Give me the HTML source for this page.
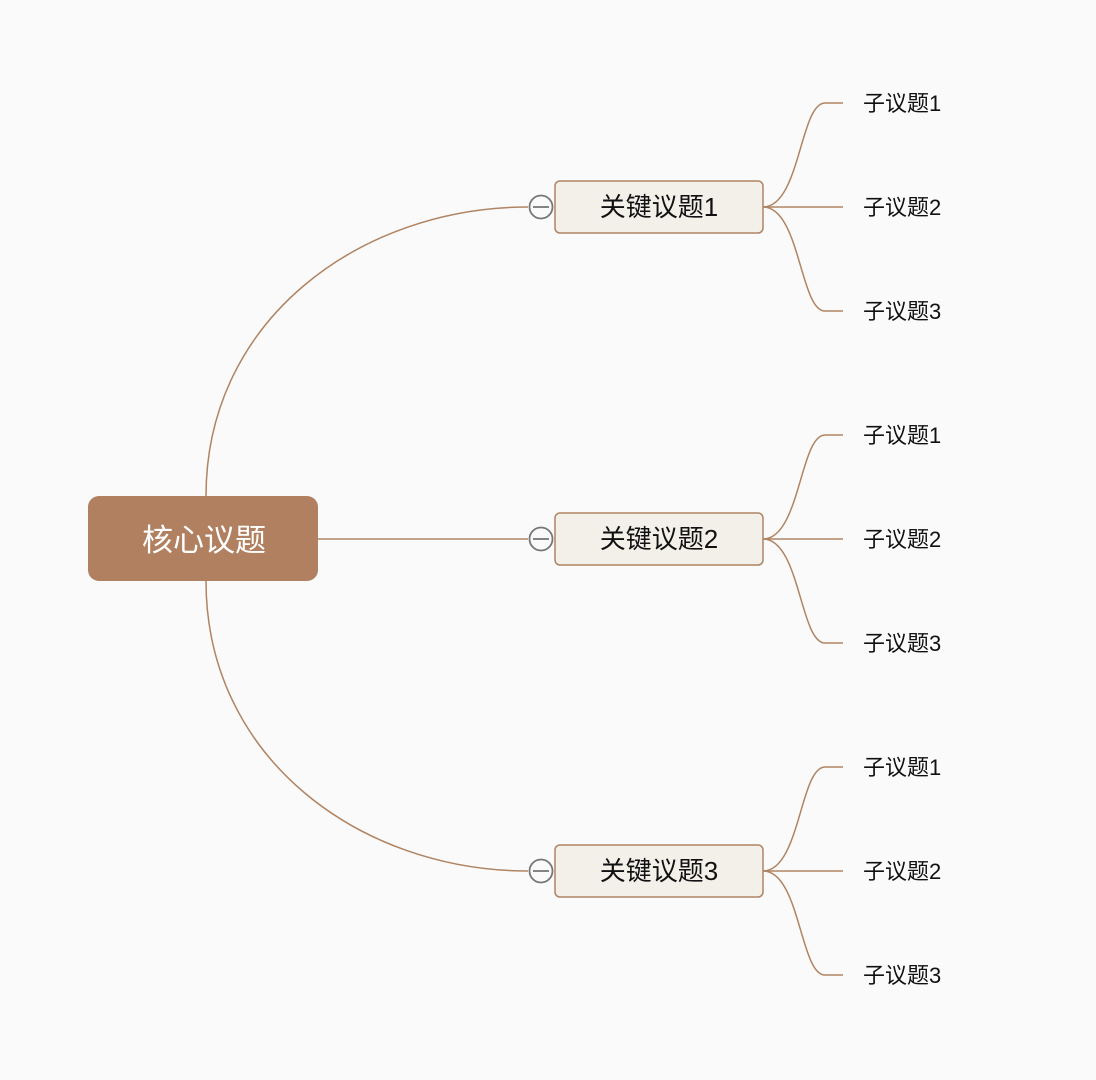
<!DOCTYPE html>
<html><head><meta charset="utf-8"><style>
html,body{margin:0;padding:0;background:#fafafa;}
svg{display:block;}
text{font-family:"Liberation Sans","Noto Sans CJK SC",sans-serif;}
</style></head><body>
<svg width="1096" height="1080" viewBox="0 0 1096 1080" xmlns="http://www.w3.org/2000/svg">
<rect width="1096" height="1080" fill="#fafafa"/>
<g fill="none" stroke="#b08462" stroke-width="1.5">
<path d="M206,496 C206,320 360,207 528,207"/>
<path d="M318,539 L528,539"/>
<path d="M206,581 C206,758 360,871 528,871"/>
<g id="s">
<path d="M763,207 C800,207 800,103 825,103 L843,103"/>
<path d="M763,207 L843,207"/>
<path d="M763,207 C800,207 800,311 825,311 L843,311"/>
</g>
<use href="#s" y="332"/>
<use href="#s" y="664"/>
</g>
<rect x="88" y="496" width="230" height="85" rx="11" fill="#b08060"/>
<text x="204" y="551" font-size="31" fill="#fff" text-anchor="middle">核心议题</text>
<g id="k">
<rect x="555" y="181" width="208" height="52" rx="5" fill="#f3f0ea" stroke="#b08462" stroke-width="1.5"/>
<circle cx="541" cy="207" r="11.5" fill="#fafafa" stroke="#777" stroke-width="1.8"/>
<line x1="533" y1="207" x2="549" y2="207" stroke="#777" stroke-width="1.8"/>
</g>
<use href="#k" y="332"/>
<use href="#k" y="664"/>
<g font-size="26" fill="#111" text-anchor="middle">
<text x="659" y="216">关键议题1</text>
<text x="659" y="548">关键议题2</text>
<text x="659" y="880">关键议题3</text>
</g>
<g font-size="22" fill="#111">
<text x="863" y="111">子议题1</text>
<text x="863" y="215">子议题2</text>
<text x="863" y="319">子议题3</text>
<text x="863" y="443">子议题1</text>
<text x="863" y="547">子议题2</text>
<text x="863" y="651">子议题3</text>
<text x="863" y="775">子议题1</text>
<text x="863" y="879">子议题2</text>
<text x="863" y="983">子议题3</text>
</g>
</svg>
</body></html>
